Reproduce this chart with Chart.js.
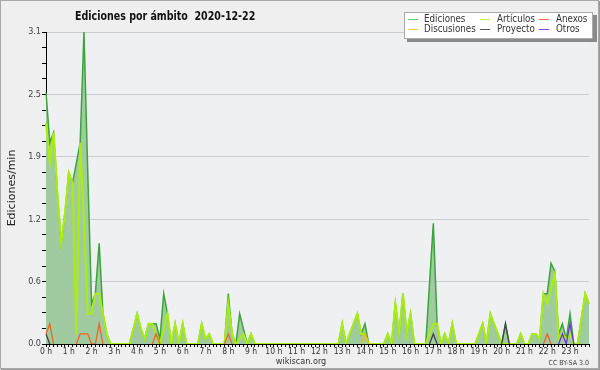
<!DOCTYPE html>
<html>
<head>
<meta charset="utf-8">
<script src="https://cdn.jsdelivr.net/npm/chart.js@4"></script>
<style>
  html, body { margin: 0; padding: 0; background: #efefef; }
</style>
</head>
<body>
<canvas id="myChart" width="600" height="370"></canvas>
<script>
// tick labels
var hours = ['0 h', '1 h', '2 h', '3 h', '4 h', '5 h', '6 h', '7 h', '8 h', '9 h', '10 h', '11 h',
    '12 h', '13 h', '14 h', '15 h', '16 h', '17 h', '18 h', '19 h', '20 h', '21 h', '22 h', '23 h']
var yLabels = ['0.0', '0.6', '1.2', '1.9', '2.5', '3.1']
var yMax = 3.1

// edits per minute, one value every 10 minutes (6 per hour)
var ediciones = [
    2.5, 2.0, 2.1, 1.5, 1.0, 1.3,
    1.7, 1.6, 1.8, 2.0, 3.1, 1.7,
    0.4, 0.5, 1.0, 0.3, 0.1, 0,
    0, 0, 0, 0, 0, 0.15,
    0.3, 0.15, 0.05, 0.2, 0.2, 0.2,
    0.05, 0.5, 0.3, 0, 0.2, 0,
    0.2, 0, 0, 0, 0, 0.2,
    0.05, 0.1, 0, 0, 0, 0,
    0.5, 0.1, 0, 0.3, 0.15, 0,
    0.1, 0, 0, 0, 0, 0,
    0, 0, 0, 0, 0, 0,
    0, 0, 0, 0, 0, 0,
    0, 0, 0, 0, 0, 0,
    0.2, 0, 0.1, 0.2, 0.3, 0.1,
    0.2, 0, 0, 0, 0, 0,
    0.1, 0, 0.4, 0.1, 0.5, 0.1,
    0.3, 0, 0, 0, 0, 0.6,
    1.2, 0.2, 0, 0.1, 0, 0.2,
    0, 0, 0, 0, 0, 0,
    0.1, 0.2, 0, 0.3, 0.2, 0.1,
    0, 0.2, 0, 0, 0, 0.1,
    0, 0, 0.1, 0.1, 0.05, 0.5,
    0.5, 0.8, 0.72, 0.1, 0.2, 0.05,
    0.3, 0, 0, 0.25, 0.5, 0.4
]
var articulos = [
    2.2, 1.8, 2.1, 1.5, 1.0, 1.3,
    1.7, 1.6, 0.1, 2.0, 1.2, 0.3,
    0.3, 0.5, 0.5, 0.3, 0.1, 0,
    0, 0, 0, 0, 0, 0.15,
    0.3, 0.15, 0.05, 0.2, 0.2, 0.1,
    0, 0.15, 0.3, 0, 0.2, 0,
    0.2, 0, 0, 0, 0, 0.2,
    0.05, 0.1, 0, 0, 0, 0,
    0.4, 0.1, 0, 0.05, 0.1, 0,
    0.1, 0, 0, 0, 0, 0,
    0, 0, 0, 0, 0, 0,
    0, 0, 0, 0, 0, 0,
    0, 0, 0, 0, 0, 0,
    0.2, 0, 0.1, 0.2, 0.3, 0.1,
    0.1, 0, 0, 0, 0, 0,
    0.1, 0, 0.4, 0.1, 0.5, 0.1,
    0.3, 0, 0, 0, 0, 0.1,
    0.2, 0.2, 0, 0.1, 0, 0.2,
    0, 0, 0, 0, 0, 0,
    0.1, 0.2, 0, 0.3, 0.2, 0.1,
    0, 0, 0, 0, 0, 0.1,
    0, 0, 0.1, 0.1, 0.05, 0.5,
    0.4, 0.55, 0.7, 0.05, 0.1, 0.05,
    0.1, 0, 0, 0.25, 0.5, 0.4
]
var anexos = [
    0.1, 0.2, 0, 0, 0, 0,
    0, 0, 0, 0.1, 0.1, 0.1,
    0, 0, 0.2, 0, 0, 0,
    0, 0, 0, 0, 0, 0,
    0, 0, 0, 0, 0, 0.1,
    0, 0, 0, 0, 0, 0,
    0, 0, 0, 0, 0, 0,
    0, 0, 0, 0, 0, 0,
    0.1, 0, 0, 0, 0, 0,
    0, 0, 0, 0, 0, 0,
    0, 0, 0, 0, 0, 0,
    0, 0, 0, 0, 0, 0,
    0, 0, 0, 0, 0, 0,
    0, 0, 0, 0, 0, 0,
    0, 0, 0, 0, 0, 0,
    0, 0, 0, 0, 0, 0,
    0, 0, 0, 0, 0, 0,
    0, 0, 0, 0, 0, 0,
    0, 0, 0, 0, 0, 0,
    0, 0, 0, 0, 0, 0,
    0, 0, 0, 0, 0, 0,
    0, 0, 0, 0, 0, 0,
    0.1, 0, 0, 0, 0, 0,
    0, 0, 0, 0, 0, 0
]
var discusiones = [
    0, 0, 0, 0, 0, 0,
    0, 0, 0, 0, 0, 0,
    0, 0, 0, 0, 0, 0,
    0, 0, 0, 0, 0, 0,
    0, 0, 0, 0, 0, 0,
    0, 0, 0, 0, 0, 0,
    0, 0, 0, 0, 0, 0,
    0, 0, 0, 0, 0, 0,
    0, 0, 0, 0, 0, 0,
    0, 0, 0, 0, 0, 0,
    0, 0, 0, 0, 0, 0,
    0, 0, 0, 0, 0, 0,
    0, 0, 0, 0, 0, 0,
    0, 0, 0, 0, 0, 0,
    0.1, 0, 0, 0, 0, 0,
    0, 0, 0, 0, 0, 0,
    0, 0, 0, 0, 0, 0,
    0, 0, 0, 0, 0, 0,
    0, 0, 0, 0, 0, 0,
    0, 0, 0, 0, 0, 0,
    0, 0, 0, 0, 0, 0,
    0, 0, 0, 0, 0, 0,
    0, 0, 0, 0, 0, 0,
    0, 0, 0, 0, 0, 0
]
var proyecto = [
    0.1, 0, 0, 0, 0, 0,
    0, 0, 0, 0, 0, 0,
    0, 0, 0, 0, 0, 0,
    0, 0, 0, 0, 0, 0,
    0, 0, 0, 0, 0, 0,
    0, 0, 0, 0, 0, 0,
    0, 0, 0, 0, 0, 0,
    0, 0, 0, 0, 0, 0,
    0, 0, 0, 0, 0, 0,
    0, 0, 0, 0, 0, 0,
    0, 0, 0, 0, 0, 0,
    0, 0, 0, 0, 0, 0,
    0, 0, 0, 0, 0, 0,
    0, 0, 0, 0, 0, 0,
    0, 0, 0, 0, 0, 0,
    0, 0, 0, 0, 0, 0,
    0, 0, 0, 0, 0, 0,
    0.1, 0, 0, 0, 0, 0,
    0, 0, 0, 0, 0, 0,
    0, 0, 0, 0, 0, 0,
    0, 0.2, 0, 0, 0, 0,
    0, 0, 0, 0, 0, 0,
    0, 0, 0, 0, 0, 0,
    0, 0, 0, 0, 0, 0
]
var otros = [
    0, 0, 0, 0, 0, 0,
    0, 0, 0, 0, 0, 0,
    0, 0, 0, 0, 0, 0,
    0, 0, 0, 0, 0, 0,
    0, 0, 0, 0, 0, 0,
    0, 0, 0, 0, 0, 0,
    0, 0, 0, 0, 0, 0,
    0, 0, 0, 0, 0, 0,
    0, 0, 0, 0, 0, 0,
    0, 0, 0, 0, 0, 0,
    0, 0, 0, 0, 0, 0,
    0, 0, 0, 0, 0, 0,
    0, 0, 0, 0, 0, 0,
    0, 0, 0, 0, 0, 0,
    0, 0, 0, 0, 0, 0,
    0, 0, 0, 0, 0, 0,
    0, 0, 0, 0, 0, 0,
    0, 0, 0, 0, 0, 0,
    0, 0, 0, 0, 0, 0,
    0, 0, 0, 0, 0, 0,
    0, 0, 0, 0, 0, 0,
    0, 0, 0, 0, 0, 0,
    0, 0, 0, 0, 0.1, 0,
    0.2, 0, 0, 0, 0, 0
]

// 10 minute slots as category labels
var slots = []
hours.forEach(function (h, i) {
    for (var m = 0; m < 60; m += 10) slots.push(i + ':' + (m < 10 ? '0' : '') + m)
})

// hide long runs of zero so small series don't paint over the axis
function sparse(arr) {
    return arr.map(function (v, i) {
        return (v === 0 && !arr[i - 1] && !arr[i + 1]) ? null : v
    })
}

var FONT = '"DejaVu Sans Condensed", "DejaVu Sans", sans-serif'

// draw text squeezed horizontally, the original uses a narrow face
function narrowText(c, text, x, y, sx) {
    c.save()
    c.translate(x, y)
    c.scale(sx, 1)
    c.fillText(text, 0, 0)
    c.restore()
}

var frame = {
    id: 'frame',
    beforeDraw: function (chart) {
        var c = chart.ctx, a = chart.chartArea
        c.save()
        c.fillStyle = '#efefef'
        c.fillRect(0, 0, chart.width, chart.height)
        c.fillStyle = '#eef0f2'
        c.fillRect(a.left, a.top, a.right - a.left, a.bottom - a.top)
        c.restore()
    },
    afterDraw: function (chart) {
        var c = chart.ctx
        c.save()
        // outer border
        c.strokeStyle = '#a8a8a8'
        c.lineWidth = 1
        c.strokeRect(0.5, 0.5, chart.width - 2, chart.height - 2)
        c.strokeStyle = '#999'
        c.beginPath()
        c.moveTo(chart.width - 0.5, 1); c.lineTo(chart.width - 0.5, chart.height)
        c.moveTo(1, chart.height - 0.5); c.lineTo(chart.width, chart.height - 0.5)
        c.stroke()

        // title
        c.fillStyle = '#111'
        c.font = 'bold 12px ' + FONT
        c.textBaseline = 'alphabetic'
        c.textAlign = 'left'
        narrowText(c, 'Ediciones por ámbito  2020-12-22', 75, 20, 0.88)

        // legend box with shadow
        c.fillStyle = '#8a8a8a'
        c.fillRect(407, 15, 190, 27)
        c.fillStyle = '#ffffff'
        c.fillRect(404, 12, 189, 27)
        c.strokeStyle = '#aaaaaa'
        c.strokeRect(404.5, 12.5, 188, 26)
        var cols = [408, 480, 539]
        var txt = [424, 497, 556]
        c.font = '11px ' + FONT
        c.textBaseline = 'middle'
        chart.data.datasets.forEach(function (ds, k) {
            var col = k % 3, row = Math.floor(k / 3)
            var y = 19.5 + row * 10
            c.strokeStyle = ds.legendColor
            c.lineWidth = 1
            c.beginPath()
            c.moveTo(cols[col], y); c.lineTo(cols[col] + 10, y)
            c.stroke()
            c.fillStyle = '#333'
            narrowText(c, ds.label, txt[col], y, 0.88)
        })

        // footer
        c.font = '9px ' + FONT
        c.fillStyle = '#333'
        c.textAlign = 'center'
        c.fillText('wikiscan.org', 301, 362)
        c.font = '7px ' + FONT
        c.textAlign = 'right'
        c.fillStyle = '#444'
        c.fillText('CC BY-SA 3.0', 589, 363)
        c.restore()
    }
}

var ctx = document.getElementById('myChart').getContext('2d')

var chart = new Chart(ctx, {
    type: 'line',
    data: {
        labels: slots,
        datasets: [
            {
                label: 'Ediciones',
                data: ediciones,
                borderColor: '#3ca43c',
                backgroundColor: '#a0cba0',
                legendColor: '#66cc66',
                borderWidth: 1.5,
                fill: 'origin',
                order: 6
            },
            {
                label: 'Artículos',
                data: articulos,
                borderColor: '#aaee11',
                legendColor: '#c4ee44',
                borderWidth: 2,
                fill: false,
                order: 5
            },
            {
                label: 'Anexos',
                data: sparse(anexos),
                borderColor: '#ee6622',
                legendColor: '#ee7744',
                borderWidth: 1.3,
                fill: false,
                order: 4
            },
            {
                label: 'Discusiones',
                data: sparse(discusiones),
                borderColor: '#eebb11',
                legendColor: '#ffcc33',
                borderWidth: 1.3,
                fill: false,
                order: 3
            },
            {
                label: 'Proyecto',
                data: sparse(proyecto),
                borderColor: '#444444',
                legendColor: '#555555',
                borderWidth: 1.3,
                fill: false,
                order: 2
            },
            {
                label: 'Otros',
                data: sparse(otros),
                borderColor: '#7733dd',
                legendColor: '#9944ee',
                borderWidth: 1.3,
                fill: false,
                order: 1
            }
        ]
    },
    options: {
        responsive: false,
        animation: false,
        devicePixelRatio: 1,
        layout: { padding: { left: 0, right: 11, top: 32, bottom: 14 } },
        elements: {
            point: { radius: 0 },
            line: { tension: 0 }
        },
        plugins: {
            legend: { display: false },
            title: { display: false },
            tooltip: { enabled: false }
        },
        scales: {
            x: {
                type: 'category',
                offset: false,
                z: 1,
                border: { color: '#000', width: 1 },
                grid: { drawOnChartArea: false, drawTicks: true, tickLength: 3, color: '#000', offset: false },
                ticks: {
                    autoSkip: false,
                    maxRotation: 0,
                    minRotation: 0,
                    padding: 0,
                    color: '#333',
                    font: { size: 8.5, family: FONT },
                    callback: function (v, i) { return i % 6 === 0 ? hours[i / 6] : '' }
                },
                afterFit: function (s) { s.height = 12 }
            },
            y: {
                min: 0,
                max: yMax,
                border: { color: '#000', width: 1 },
                afterBuildTicks: function (s) {
                    var t = []
                    for (var i = 0; i <= 20; i++) t.push({ value: yMax * i / 20 })
                    s.ticks = t
                },
                grid: {
                    color: function (c) { return (c.index % 4 === 0 && c.index > 0) ? '#cccccc' : 'rgba(0,0,0,0)' },
                    tickColor: '#000',
                    tickLength: 4
                },
                ticks: {
                    padding: 1,
                    color: '#444',
                    font: { size: 9, family: FONT },
                    callback: function (v, i) { return i % 4 === 0 ? yLabels[i / 4] : '' }
                },
                title: {
                    display: true,
                    text: 'Ediciones/min',
                    color: '#222',
                    font: { size: 11, family: '"DejaVu Sans", sans-serif' },
                    padding: { top: 6, bottom: 0 }
                },
                afterFit: function (s) { s.width = 46 }
            }
        }
    },
    plugins: [frame]
})
</script>
</body>
</html>
